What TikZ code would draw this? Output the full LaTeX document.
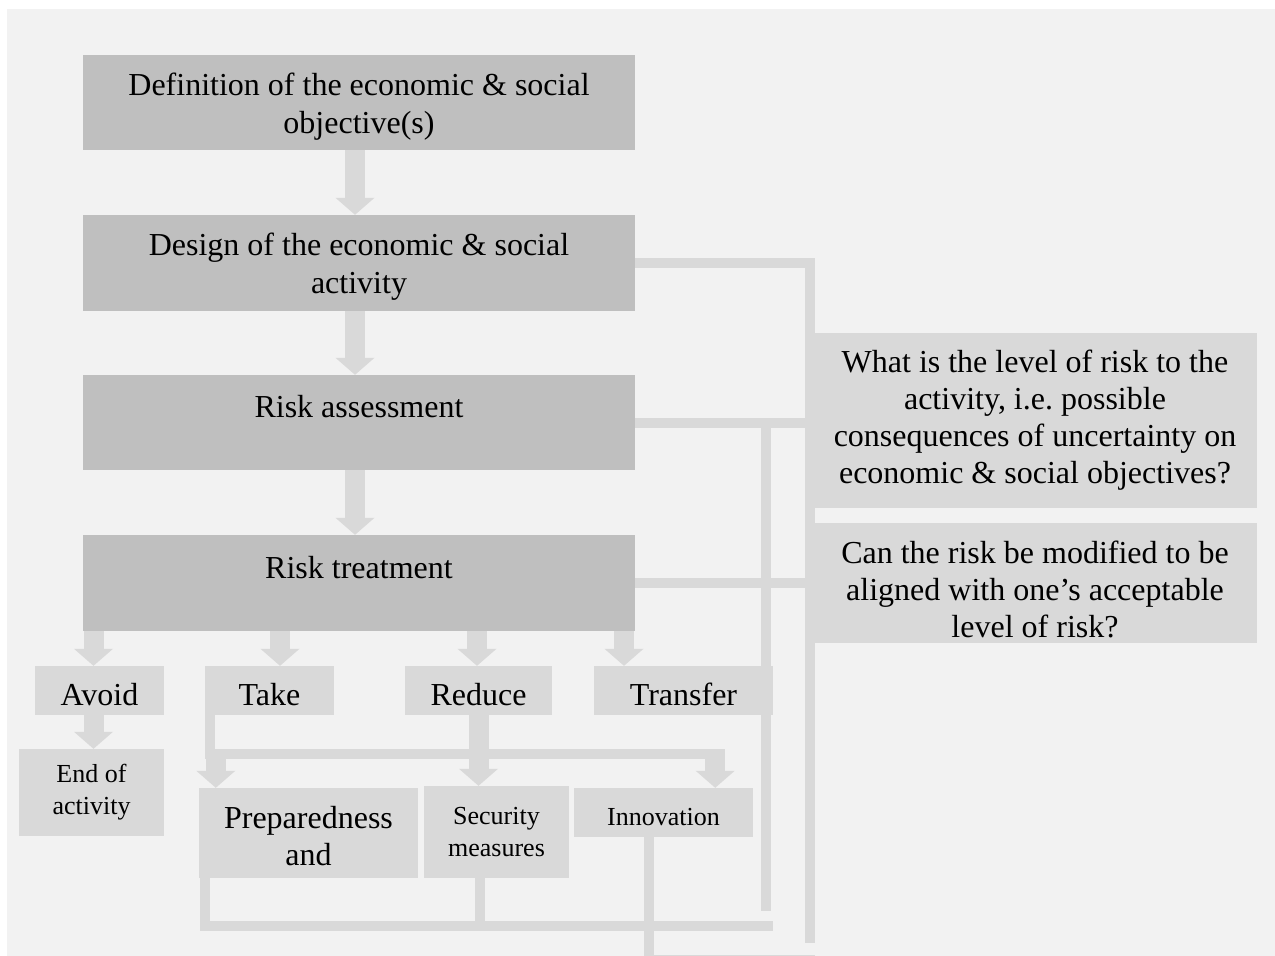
\documentclass[tikz,border=0pt]{standalone}
\usepackage{fontspec}
\setmainfont{Liberation Serif}
\usetikzlibrary{arrows.meta}
\definecolor{boxdark}{HTML}{BFBFBF}
\definecolor{boxlight}{HTML}{D9D9D9}
\definecolor{pagegray}{HTML}{F2F2F2}
\tikzset{
  mainbox/.style={fill=boxdark, inner sep=0pt, minimum width=552pt, minimum height=95pt, text height=68pt, align=center, font=\fontsize{32}{38}\selectfont},
  askbox/.style={fill=boxlight, inner sep=0pt, minimum width=444pt, align=center, font=\fontsize{32}{37}\selectfont},
  optbox/.style={fill=boxlight, inner sep=0pt, minimum height=49pt, text height=30pt, align=center, font=\fontsize{32}{37}\selectfont},
  subbox/.style={fill=boxlight, inner sep=0pt, align=center, font=\fontsize{26}{32}\selectfont},
  flowarrow/.style={draw=boxlight, line width=20pt, -{Triangle[width=39pt,length=17pt,line width=0pt]}},
  feed/.style={draw=boxlight, line width=10pt},
}
\begin{document}
\begin{tikzpicture}[x=1pt,y=-1pt]
\useasboundingbox (0,0) rectangle (1275,956);
\clip (0,0) rectangle (1275,956);
\fill[white] (0,0) rectangle (1275,956);
\fill[pagegray] (7,9) rectangle (1275,956);
\node[mainbox] (objdef) at (359,102.5) {Definition of the economic \& social\\objective(s)};
\node[mainbox, minimum height=96pt] (design) at (359,263) {Design of the economic \& social\\activity};
\node[mainbox, text height=78pt] (assess) at (359,422.5) {Risk assessment\\\strut};
\node[mainbox, text height=78pt, minimum height=96pt] (treat) at (359,583) {Risk treatment\\\strut};
\node[askbox, minimum height=175pt] (askrisk) at (1035,420.5) {What is the level of risk to the\\activity, i.e.\ possible\\consequences of uncertainty on\\economic \& social objectives?};
\node[askbox, text height=110pt, minimum height=120pt] (askmod) at (1035,583) {Can the risk be modified to be\\aligned with one’s acceptable\\level of risk?};
\node[optbox, minimum width=129pt] (avoid) at (99.5,690.5) {Avoid};
\node[optbox, minimum width=129pt] (take) at (269.5,690.5) {Take};
\node[optbox, minimum width=147pt] (reduce) at (478.5,690.5) {Reduce};
\node[optbox, minimum width=179pt] (transfer) at (683.5,690.5) {Transfer};
\node[subbox, minimum width=145pt, minimum height=87pt] (endact) at (91.5,792.5) {End of\\activity};
\node[optbox, text height=66pt, minimum width=219pt, minimum height=90pt] (prep) at (308.5,833) {Preparedness\\and};
\node[subbox, minimum width=145pt, minimum height=92pt] (secmeas) at (496.5,832) {Security\\measures};
\node[subbox, text height=26pt, minimum width=179pt, minimum height=49pt] (innov) at (663.5,812.5) {Innovation};
\coordinate (railout) at (810,943);
\coordinate (railin) at (766,911);
\coordinate (forkend) at (725,753.5);
\coordinate (basejoin) at (773,926);
\coordinate (baseout) at (815,960);
\draw[flowarrow] ([xshift=-4pt]objdef.south) -- ([xshift=-4pt]design.north);
\draw[flowarrow] ([xshift=-4pt]design.south) -- ([xshift=-4pt]assess.north);
\draw[flowarrow] ([xshift=-4pt]assess.south) -- ([xshift=-4pt]treat.north);
\draw[flowarrow] ([xshift=-6pt]avoid.north |- treat.south) -- ([xshift=-6pt]avoid.north);
\draw[flowarrow] ([xshift=10.5pt]take.north |- treat.south) -- ([xshift=10.5pt]take.north);
\draw[flowarrow] ([xshift=-1.5pt]reduce.north |- treat.south) -- ([xshift=-1.5pt]reduce.north);
\draw[flowarrow] ([xshift=-59.5pt]transfer.north |- treat.south) -- ([xshift=-59.5pt]transfer.north);
\draw[flowarrow] ([xshift=-6pt]avoid.south) -- ([xshift=-6pt]avoid.south |- endact.north);
\draw[feed] (design.east) -| (railout);
\draw[feed] (assess.east) -- (assess.east -| railout);
\draw[feed] (assess.east -| railin) -- (railin);
\draw[feed] (treat.east) -- (askmod.west |- treat.east);
\draw[feed] ([xshift=5pt]take.south west) |- (forkend);
\draw[flowarrow] ([xshift=17pt]prep.north west |- forkend) -- ([xshift=17pt]prep.north west);
\draw[flowarrow] ([xshift=-38pt]innov.north east |- forkend) -- ([xshift=-38pt]innov.north east);
\draw[flowarrow] (reduce.south) -- (reduce.south |- secmeas.north);
\draw[feed] ([xshift=6pt]prep.south west) |- (basejoin);
\draw[feed] ([xshift=-17pt]secmeas.south) -- ([xshift=-17pt]secmeas.south |- basejoin);
\draw[feed] ([xshift=-14.5pt]innov.south) |- (baseout);
\end{tikzpicture}
\end{document}
